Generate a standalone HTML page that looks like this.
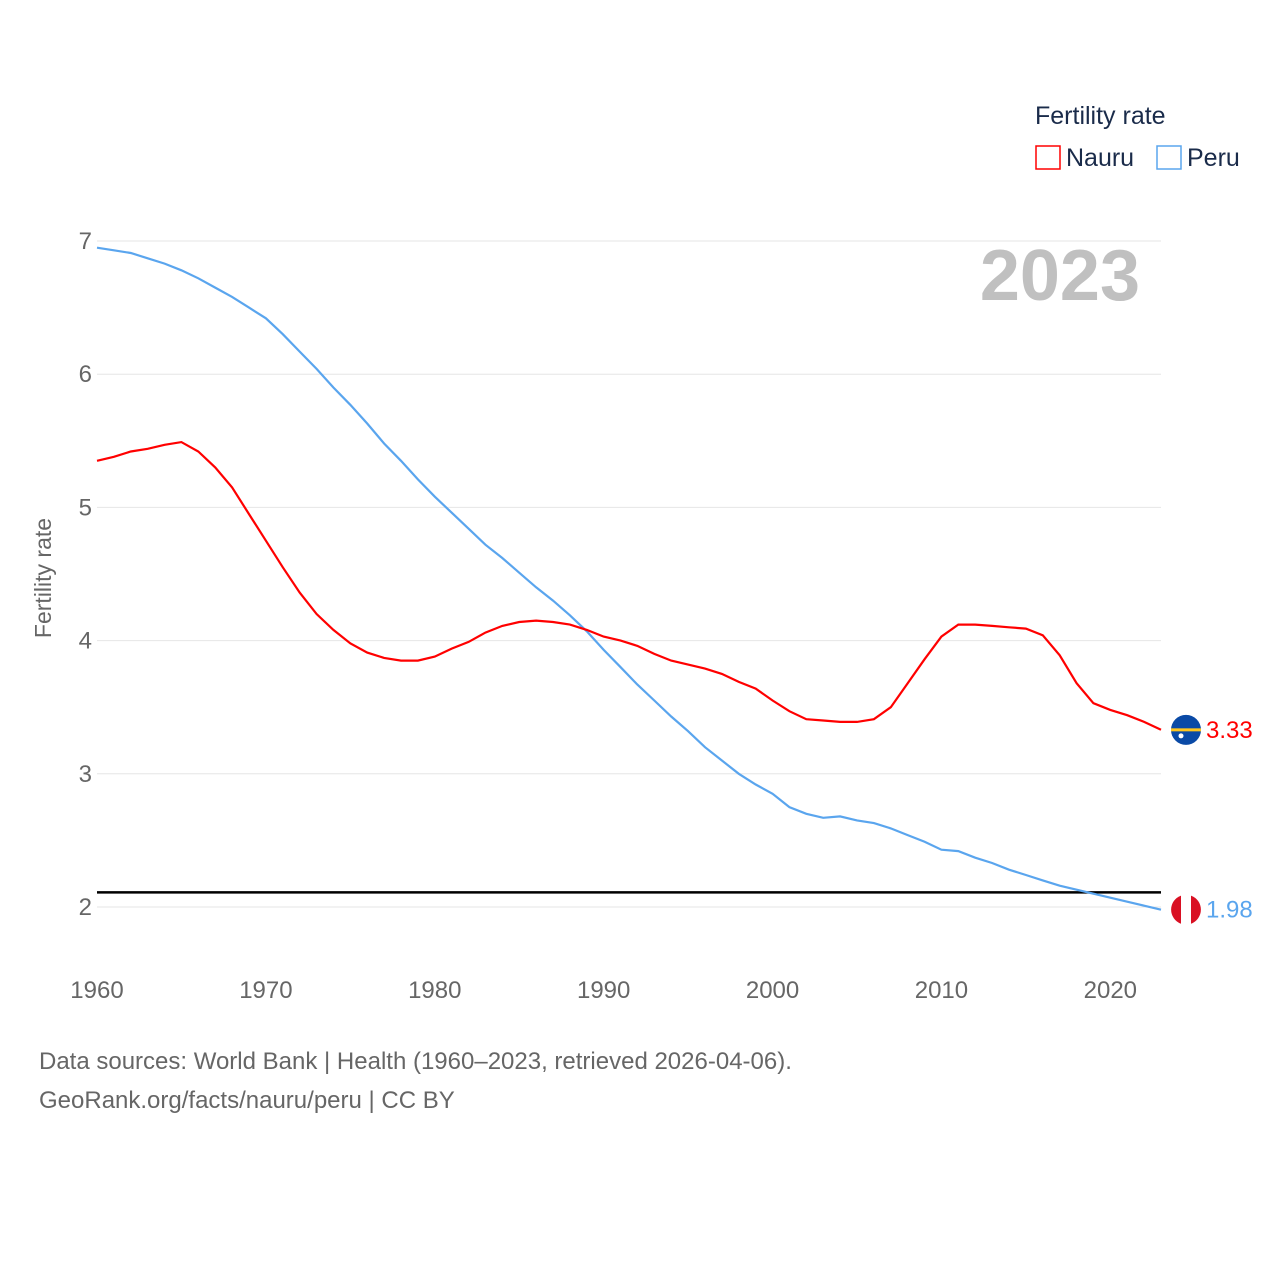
<!DOCTYPE html>
<html><head><meta charset="utf-8"><style>
body{margin:0;background:#fff;font-family:"Liberation Sans",sans-serif;}
svg text{font-family:"Liberation Sans",sans-serif;}
</style></head><body>
<svg id="chart" width="1280" height="1280" xmlns="http://www.w3.org/2000/svg">
<text x="1035" y="124" font-size="25" fill="#1a2b4a">Fertility rate</text>
<rect x="1036" y="146" width="24" height="23" fill="none" stroke="#ff0000" stroke-width="1.5"/>
<text x="1066" y="166" font-size="25" fill="#1a2b4a">Nauru</text>
<rect x="1157" y="146" width="24" height="23" fill="none" stroke="#5aa5ee" stroke-width="1.5"/>
<text x="1187" y="166" font-size="25" fill="#1a2b4a">Peru</text>
<text x="1140" y="300" font-size="72" font-weight="bold" fill="#c0c0c0" text-anchor="end">2023</text>
<g id="grid"></g><g id="series"></g>
<text transform="translate(51,578) rotate(-90)" font-size="23" fill="#666" text-anchor="middle">Fertility rate</text>
<text x="39" y="1069" font-size="24" fill="#666">Data sources: World Bank | Health (1960–2023, retrieved 2026-04-06).</text>
<text x="39" y="1108" font-size="24" fill="#666">GeoRank.org/facts/nauru/peru | CC BY</text>
</svg>
<script>
const years=[];for(let y=1960;y<=2023;y++)years.push(y);
const yTicks=[2,3,4,5,6,7];
const xTicks=[1960,1970,1980,1990,2000,2010,2020];
const replacementLevel=2.11;
const nauru=[5.35,5.38,5.42,5.44,5.47,5.49,5.42,5.30,5.15,4.95,4.75,4.55,4.36,4.20,4.08,3.98,3.91,3.87,3.85,3.85,3.88,3.94,3.99,4.06,4.11,4.14,4.15,4.14,4.12,4.08,4.03,4.00,3.96,3.90,3.85,3.82,3.79,3.75,3.69,3.64,3.55,3.47,3.41,3.40,3.39,3.39,3.41,3.50,3.68,3.86,4.03,4.12,4.12,4.11,4.10,4.09,4.04,3.89,3.68,3.53,3.48,3.44,3.39,3.33];
const peru=[6.95,6.93,6.91,6.87,6.83,6.78,6.72,6.65,6.58,6.50,6.42,6.30,6.17,6.04,5.90,5.77,5.63,5.48,5.35,5.21,5.08,4.96,4.84,4.72,4.62,4.51,4.40,4.30,4.19,4.07,3.93,3.80,3.67,3.55,3.43,3.32,3.20,3.10,3.00,2.92,2.85,2.75,2.70,2.67,2.68,2.65,2.63,2.59,2.54,2.49,2.43,2.42,2.37,2.33,2.28,2.24,2.20,2.16,2.13,2.10,2.07,2.04,2.01,1.98];
const NS="http://www.w3.org/2000/svg";
const X=v=>97+(v-1960)*(1161-97)/63;
const Y=v=>907-(v-2)*(907-241)/5;
function mk(t,a,p){const e=document.createElementNS(NS,t);for(const k in a)e.setAttribute(k,a[k]);p.appendChild(e);return e;}
const g=document.getElementById('grid'),s=document.getElementById('series');
yTicks.forEach(t=>{
 const l=mk('line',{x1:97,x2:1161,y1:Y(t),y2:Y(t),stroke:'#e6e6e6','stroke-width':1},g);
 
 
 const tx=mk('text',{x:92,y:Y(t)+8,'font-size':24,fill:'#666','text-anchor':'end'},g);tx.textContent=t;
 
 
});
xTicks.forEach(t=>{
 const tx=mk('text',{x:X(t),y:998,'font-size':24,fill:'#666','text-anchor':'middle'},g);tx.textContent=t;
 
 
});
const rl=mk('line',{x1:97,x2:1161,y1:Y(replacementLevel),y2:Y(replacementLevel),stroke:'#000','stroke-width':2.5},s);


function line(data,color,name){
 const p=mk('path',{d:data.map((v,i)=>(i?'L':'M')+X(years[i]).toFixed(1)+','+Y(v).toFixed(1)).join(''),fill:'none',stroke:color,'stroke-width':2.2},s);
 
 
}
line(peru,'#5aa5ee','line-peru');
line(nauru,'#ff0000','line-nauru');
// end markers
const ny=Y(nauru[nauru.length-1]),py=Y(peru[peru.length-1]);
const nf=mk('g',{},s);


mk('circle',{cx:1186,cy:ny,r:15,fill:'#0a4aa6'},nf);
mk('rect',{x:1171,y:ny-1.5,width:30,height:3,fill:'#ffc61e'},nf);
mk('circle',{cx:1181,cy:ny+6,r:2.5,fill:'#fff'},nf);
const nt=mk('text',{x:1206,y:ny+8,'font-size':24,fill:'#ff0000'},s);nt.textContent=nauru[nauru.length-1].toFixed(2);


const pf=mk('g',{},s);


mk('circle',{cx:1186,cy:py,r:15,fill:'#fff'},pf);
mk('path',{d:`M1181,${py-14.1}A15,15 0 0 0 1181,${py+14.1}Z`,fill:'#d91023'},pf);
mk('path',{d:`M1191,${py-14.1}A15,15 0 0 1 1191,${py+14.1}Z`,fill:'#d91023'},pf);
const pt=mk('text',{x:1206,y:py+8,'font-size':24,fill:'#5aa5ee'},s);pt.textContent=peru[peru.length-1].toFixed(2);


</script>
</body></html>
